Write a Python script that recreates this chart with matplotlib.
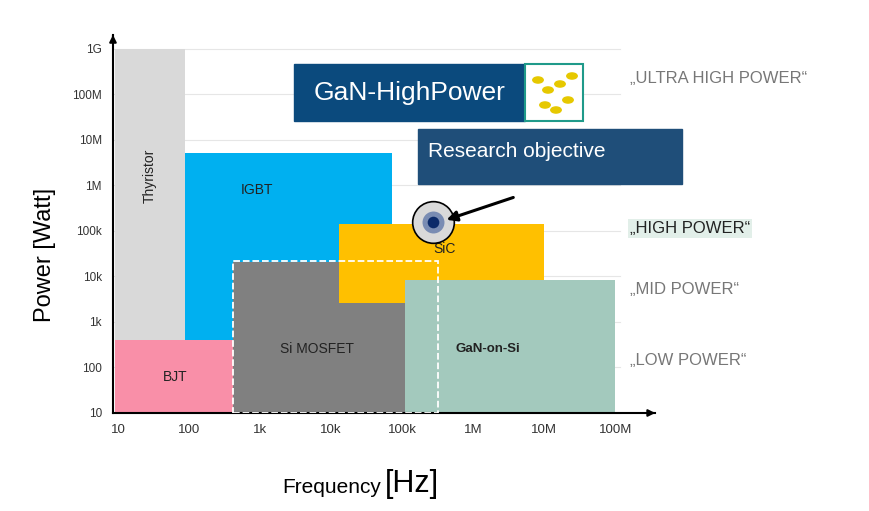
import matplotlib
matplotlib.use("Agg")
import matplotlib.pyplot as plt
from matplotlib.patches import Rectangle, Circle, FancyBboxPatch
import numpy as np

plt.rcParams['font.family'] = ['Liberation Sans', 'DejaVu Sans']

x_ticks = [1e1, 1e2, 1e3, 1e4, 1e5, 1e6, 1e7, 1e8]
x_labels = ["10", "100", "1k", "10k", "100k", "1M", "10M", "100M"]
y_ticks = [1e1, 1e2, 1e3, 1e4, 1e5, 1e6, 1e7, 1e8, 1e9]
y_labels = ["10", "100", "1k", "10k", "100k", "1M", "10M", "100M", "1G"]

# regions: name, f_min, f_max, p_min, p_max, color, label pos, text color
regions = [
    ("Thyristor", 10**0.96, 10**1.94, 10**2.6, 1e9, "#d9d9d9"),
    ("IGBT", 10**1.94, 10**4.86, 10**2.6, 10**6.71, "#00b0f0"),
    ("Si MOSFET", 10**2.62, 10**5.04, 1e1, 10**4.32, "#808080"),
    ("SiC", 10**4.11, 10**6.99, 10**3.42, 10**5.15, "#ffc000"),
    ("GaN-on-Si", 10**5.04, 10**8.0, 1e1, 10**3.92, "#a3c9bd"),
    ("BJT", 10**0.96, 10**2.62, 1e1, 10**2.6, "#f98fa8"),
]
label_pos = {
    "Thyristor": (10**1.45, 10**6.2),
    "IGBT": (10**2.95, 10**5.9),
    "Si MOSFET": (10**3.8, 10**2.4),
    "SiC": (10**5.6, 10**4.6),
    "GaN-on-Si": (10**6.2, 10**2.4),
    "BJT": (10**1.8, 10**1.8),
}
power_classes = ["„ULTRA HIGH POWER“", "„HIGH POWER“", "„MID POWER“", "„LOW POWER“"]
power_class_y = [10**8.35, 10**5.05, 10**3.7, 10**2.15]

fig = plt.figure(figsize=(8.69, 5.11), dpi=100)
ax = fig.add_axes([0.130, 0.1918, 0.624, 0.740])
ax.set_xscale("log"); ax.set_yscale("log")
ax.set_xlim(10**0.93, 10**8.56)
ax.set_ylim(1e1, 10**9.3)
for s in ["top", "right"]:
    ax.spines[s].set_visible(False)
for s in ["left", "bottom"]:
    ax.spines[s].set_linewidth(1.5)
ax.minorticks_off()
ax.set_xticks(x_ticks, x_labels, fontsize=9.5, color="#333333")
ax.set_yticks(y_ticks, y_labels, fontsize=8.5, color="#333333")
ax.tick_params(length=0, pad=8)
ax.annotate("", xy=(1.0, 0), xytext=(0.99, 0), xycoords="axes fraction",
            arrowprops=dict(arrowstyle="-|>", color="black", lw=1.5), annotation_clip=False)
ax.annotate("", xy=(0, 1.0), xytext=(0, 0.99), xycoords="axes fraction",
            arrowprops=dict(arrowstyle="-|>", color="black", lw=1.5), annotation_clip=False)

for y in y_ticks:
    ax.plot([10**0.93, 10**8.07], [y, y], color="#e6e6e6", lw=0.8, zorder=0, clip_on=False)

for name, x0, x1, y0, y1, c in regions:
    ax.add_patch(Rectangle((x0, y0), x1 - x0, y1 - y0, color=c, zorder=2, lw=0))
for name, (lx, ly) in label_pos.items():
    kw = dict(ha="center", va="center", fontsize=10, zorder=5, color="#222222")
    if name == "Thyristor":
        kw["rotation"] = 90
    if name == "GaN-on-Si":
        kw["fontweight"] = "bold"; kw["fontsize"] = 9.5
    ax.text(lx, ly, name, **kw)

# dashed box
ax.add_patch(Rectangle((10**2.62, 1e1), 10**5.51 - 10**2.62, 10**4.34 - 1e1, fill=False,
                       ec="white", ls="--", lw=1.3, zorder=4))

# power class labels
for t, y in zip(power_classes, power_class_y):
    kw = dict(fontsize=12, color="#777777", va="center", ha="left")
    if t == "„HIGH POWER“":
        kw["color"] = "#222222"
        kw["bbox"] = dict(fc="#e2efe9", ec="none", pad=1.5)
    ax.text(10**8.2, y, t, clip_on=False, **kw)

# figure-pixel helper
def fx(px): return px / 869
def fy(py): return 1 - py / 511

# GaN-HighPower box
fig.patches.append(Rectangle((fx(294), fy(121)), fx(231), 57/511, transform=fig.transFigure,
                             color="#0b4a7d", zorder=5))
fig.text(fx(410), fy(93), "GaN-HighPower", color="white", fontsize=19, ha="center", va="center", zorder=6)
fig.patches.append(Rectangle((fx(525), fy(121)), fx(58), 57/511, transform=fig.transFigure,
                             fc="white", ec="#1f9a8a", lw=1.5, zorder=5))
for (px, py) in [(538, 80), (548, 90), (560, 84), (545, 105), (568, 100), (556, 110), (572, 76)]:
    fig.patches.append(Circle((fx(px), fy(py)), 0.006, transform=fig.transFigure, color="#e6c800", zorder=6))

# Research objective box
fig.patches.append(Rectangle((fx(418), fy(184)), fx(264), 55/511, transform=fig.transFigure,
                             color="#1f4e79", zorder=5))
fig.text(fx(428), fy(151), "Research objective", color="white", fontsize=15, ha="left", va="center", zorder=6)

# circle target
cx, cy = 10**5.44, 10**5.2
ax.scatter([cx], [cy], s=900, c="#d9d9d9", edgecolors="black", linewidths=1.2, zorder=6)
ax.scatter([cx], [cy], s=250, c="#3a5a9a", alpha=0.6, zorder=7, linewidths=0)
ax.scatter([cx], [cy], s=70, c="#0b2a6a", zorder=7, linewidths=0)
ax.annotate("", xy=(cx * 1.4, cy * 1.05), xytext=(10**6.6, 10**5.75),
            arrowprops=dict(arrowstyle="-|>", color="black", lw=2.2, mutation_scale=15), zorder=8)

fig.text(fx(45), fy(255), "Power [Watt]", rotation=90, fontsize=17, ha="center", va="center")
fig.text(fx(381), fy(487), "Frequency", fontsize=15, ha="right", va="center")
fig.text(fx(385), fy(484), "[Hz]", fontsize=22, ha="left", va="center")

fig.savefig("out.png", dpi=100)
